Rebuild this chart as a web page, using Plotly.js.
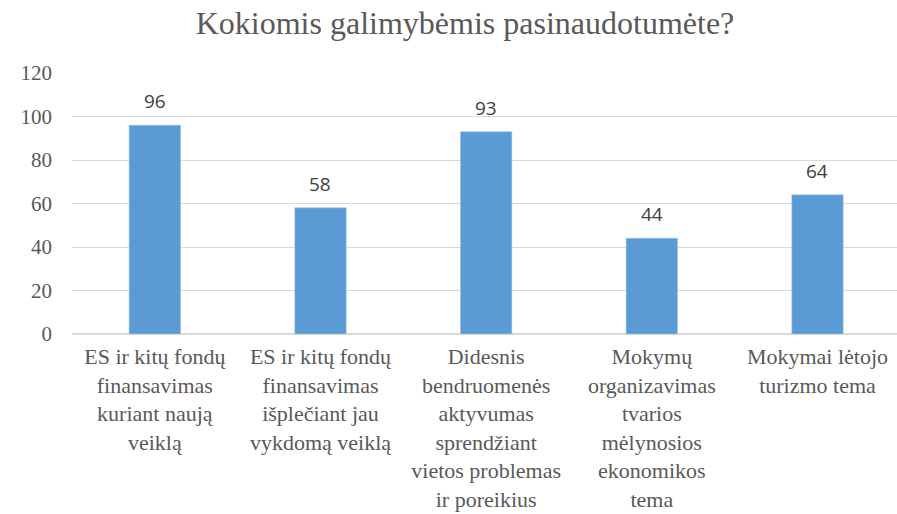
<!DOCTYPE html>
<html>
<head>
<meta charset="utf-8">
<script src="https://cdn.plot.ly/plotly-3.0.1.min.js"></script>
<style>html,body{margin:0;padding:0;background:#fff;}#chart{width:897px;height:514px;}</style>
</head>
<body>
<div id="chart"></div>
<script>
const categories = [
  "ES ir kitų fondų<br>finansavimas<br>kuriant naują<br>veiklą",
  "ES ir kitų fondų<br>finansavimas<br>išplečiant jau<br>vykdomą veiklą",
  "Didesnis<br>bendruomenės<br>aktyvumas<br>sprendžiant<br>vietos problemas<br>ir poreikius",
  "Mokymų<br>organizavimas<br>tvarios<br>mėlynosios<br>ekonomikos<br>tema",
  "Mokymai lėtojo<br>turizmo tema"
];
const values = [96, 58, 93, 44, 64];
const yTicks = [0, 20, 40, 60, 80, 100, 120];
const titleText = "Kokiomis galimybėmis pasinaudotumėte?";

const serif = "Liberation Serif, serif";
const sans = "Open Sans, sans-serif";

const trace = {
  type: 'bar',
  x: categories.map((c, i) => i),
  y: values,
  width: 0.31,
  marker: {color: '#5B9BD5', line: {color: '#9DC3E6', width: 0.6}},
  hoverinfo: 'skip'
};

const annotations = values.map((v, i) => ({
  x: i, y: v, xref: 'x', yref: 'y',
  text: String(v), showarrow: false,
  yanchor: 'bottom', yshift: 9,
  font: {family: sans, size: 19, color: '#404040'}
}));

const layout = {
  width: 897, height: 514,
  margin: {l: 72, r: 0, t: 73, b: 180},
  paper_bgcolor: '#ffffff', plot_bgcolor: '#ffffff',
  font: {family: serif, color: '#595959'},
  showlegend: false,
  title: {
    text: titleText,
    font: {family: serif, size: 32, color: '#595959'},
    x: 465/897, xanchor: 'center', xref: 'container',
    y: 1 - 23/514, yanchor: 'middle', yref: 'container'
  },
  xaxis: {
    range: [-0.5, 4.48],
    tickmode: 'array',
    tickvals: categories.map((c, i) => i),
    ticktext: categories,
    tickangle: 0,
    showgrid: false,
    zeroline: false,
    showline: false,
    ticks: '',
    ticklabelstandoff: 7,
    tickfont: {family: serif, size: 22, color: '#595959'},
    fixedrange: true
  },
  yaxis: {
    range: [0, 120],
    tickmode: 'array',
    tickvals: yTicks,
    ticktext: yTicks.map(String),
    showgrid: true,
    gridcolor: '#d9d9d9',
    gridwidth: 1,
    zeroline: true,
    zerolinecolor: '#d9d9d9',
    zerolinewidth: 1.5,
    showline: false,
    ticks: '',
    ticklabelstandoff: 19,
    tickfont: {family: serif, size: 21, color: '#595959'},
    fixedrange: true
  },
  annotations: annotations
};

Plotly.newPlot('chart', [trace], layout, {staticPlot: true, displayModeBar: false});
</script>
</body>
</html>
